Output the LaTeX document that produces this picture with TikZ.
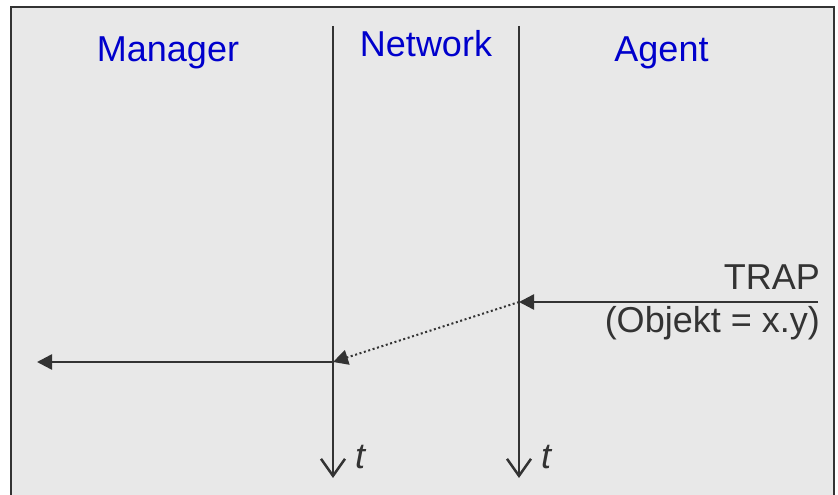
\documentclass[tikz,border=0pt]{standalone}
\usepackage{fontspec}
\setmainfont{Liberation Sans}
\usetikzlibrary{arrows.meta}
\definecolor{bg}{HTML}{E8E8E8}
\definecolor{ink}{HTML}{333333}
\definecolor{hdr}{HTML}{0000CC}
\begin{document}
\begin{tikzpicture}[x=1pt,y=-1pt,
  lifeline/.style={draw=ink,line width=2.5pt,-{Straight Barb[length=17pt,width=24pt]}},
  msg/.style={draw=ink,line width=2.5pt,-{Triangle[length=15pt,width=15pt]}},
  dotmsg/.style={draw=ink,line width=2pt,dash pattern=on 2pt off 2.6pt,-{Triangle[length=15pt,width=15pt]}},
  header/.style={text=hdr,font=\fontsize{36}{43}\selectfont,inner sep=0pt,anchor=base},
  label/.style={text=ink,font=\fontsize{36}{43}\selectfont,inner sep=0pt,anchor=base east},
  tlabel/.style={text=ink,font=\fontsize{36}{43}\selectfont\itshape,inner sep=0pt,anchor=base west}]
\useasboundingbox (0,0) rectangle (838,495);
\fill[bg] (11,7) rectangle (834,500);
\draw[ink,line width=2.5pt] (11,500) -- (11,7) -- (834,7) -- (834,500);
% headers
\node[header] (manager) at (168,62) {Manager};
\node[header] (network) at (426,57) {Network};
\node[header] (agent) at (661.5,62) {Agent};
% lifelines
\coordinate (ltop) at (333,26);
\coordinate (lbot) at (333,478);
\coordinate (rtop) at (519,26);
\coordinate (rbot) at (519,478);
\draw[lifeline] (ltop) -- (lbot);
\draw[lifeline] (rtop) -- (rbot);
\node[tlabel] (t1) at (355,468) {t};
\node[tlabel] (t2) at (541,468) {t};
% messages
\coordinate (trapstart) at (818,302);
\coordinate (agentrecv) at (519,302);
\coordinate (netrecv) at (333,362);
\coordinate (mgrend) at (37,362);
\node[label] (trap) at (820,289) {TRAP};
\node[label] (obj) at (820,332) {(Objekt = x.y)};
\draw[msg] (trapstart) -- (agentrecv);
\draw[dotmsg] (agentrecv) -- (netrecv);
\draw[msg] (netrecv) -- (mgrend);
\end{tikzpicture}
\end{document}
